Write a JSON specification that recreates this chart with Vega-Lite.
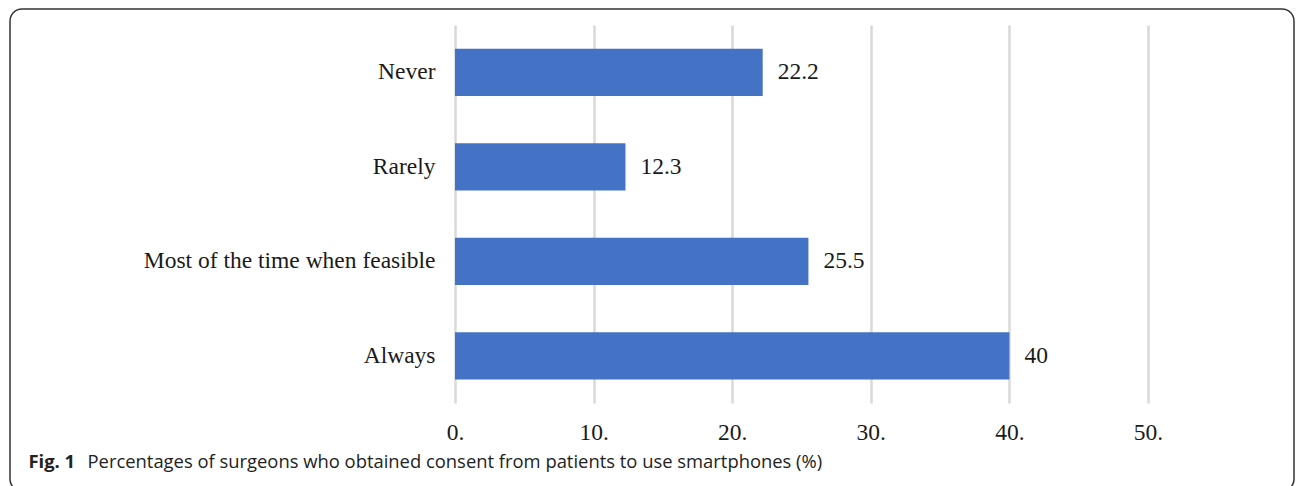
{
  "$schema": "https://vega.github.io/schema/vega-lite/v6.json",
  "autosize": "none",
  "width": 1284,
  "height": 482,
  "padding": {"left": 10, "top": 9, "right": 2, "bottom": 0},
  "background": "white",
  "config": {
    "view": {"stroke": "#333333", "strokeWidth": 1.5, "cornerRadius": 12, "fill": "white"}
  },
  "data": {
    "values": [
      {"response": "Never", "percent": 22.2},
      {"response": "Rarely", "percent": 12.3},
      {"response": "Most of the time when feasible", "percent": 25.5},
      {"response": "Always", "percent": 40}
    ]
  },
  "encoding": {
    "y": {
      "field": "response",
      "type": "nominal",
      "sort": null,
      "scale": {"range": [16, 394], "paddingInner": 0.5, "paddingOuter": 0.25},
      "axis": {
        "orient": "left",
        "offset": -445,
        "domain": false,
        "ticks": false,
        "grid": false,
        "labelPadding": 20,
        "labelFont": "Liberation Serif",
        "labelFontSize": 23.5,
        "labelColor": "#1a1a1a",
        "labelLimit": 500,
        "title": "Fig. 1",
        "titleAngle": 0,
        "titleX": -427,
        "titleY": 458,
        "titleAlign": "left",
        "titleBaseline": "alphabetic",
        "titleFont": "Open Sans",
        "titleFontSize": 18.4,
        "titleFontWeight": "bold",
        "titleColor": "#222222"
      }
    }
  },
  "layer": [
    {
      "mark": {"type": "bar", "color": "#4472C4"},
      "encoding": {
        "x": {
          "field": "percent",
          "type": "quantitative",
          "scale": {"domain": [0, 50], "range": [445, 1138], "nice": false, "zero": true},
          "axis": {
            "orient": "top",
            "values": [0, 10, 20, 30, 40, 50],
            "domain": false,
            "ticks": false,
            "labels": false,
            "grid": true,
            "gridColor": "#d9d9d9",
            "gridWidth": 2.5,
            "title": null
          }
        }
      }
    },
    {
      "mark": {
        "type": "text",
        "align": "left",
        "baseline": "middle",
        "dx": 15,
        "font": "Liberation Serif",
        "fontSize": 23.5,
        "color": "#1a1a1a"
      },
      "encoding": {
        "x": {
          "field": "percent",
          "type": "quantitative",
          "axis": {
            "orient": "bottom",
            "offset": -88,
            "values": [0, 10, 20, 30, 40, 50],
            "labelExpr": "datum.value + '.'",
            "labelFlush": false,
            "labelOverlap": false,
            "domain": false,
            "ticks": false,
            "grid": false,
            "labelPadding": 17,
            "labelFont": "Liberation Serif",
            "labelFontSize": 23.5,
            "labelColor": "#1a1a1a",
            "title": "Percentages of surgeons who obtained consent from patients to use smartphones (%)",
            "titleX": 77,
            "titleY": 64,
            "titleAlign": "left",
            "titleAnchor": null,
            "titleBaseline": "alphabetic",
            "titleFont": "Open Sans",
            "titleFontSize": 18.4,
            "titleFontWeight": "normal",
            "titleColor": "#222222"
          }
        },
        "text": {"field": "percent", "type": "quantitative"}
      }
    }
  ],
  "resolve": {"axis": {"x": "independent"}}
}
